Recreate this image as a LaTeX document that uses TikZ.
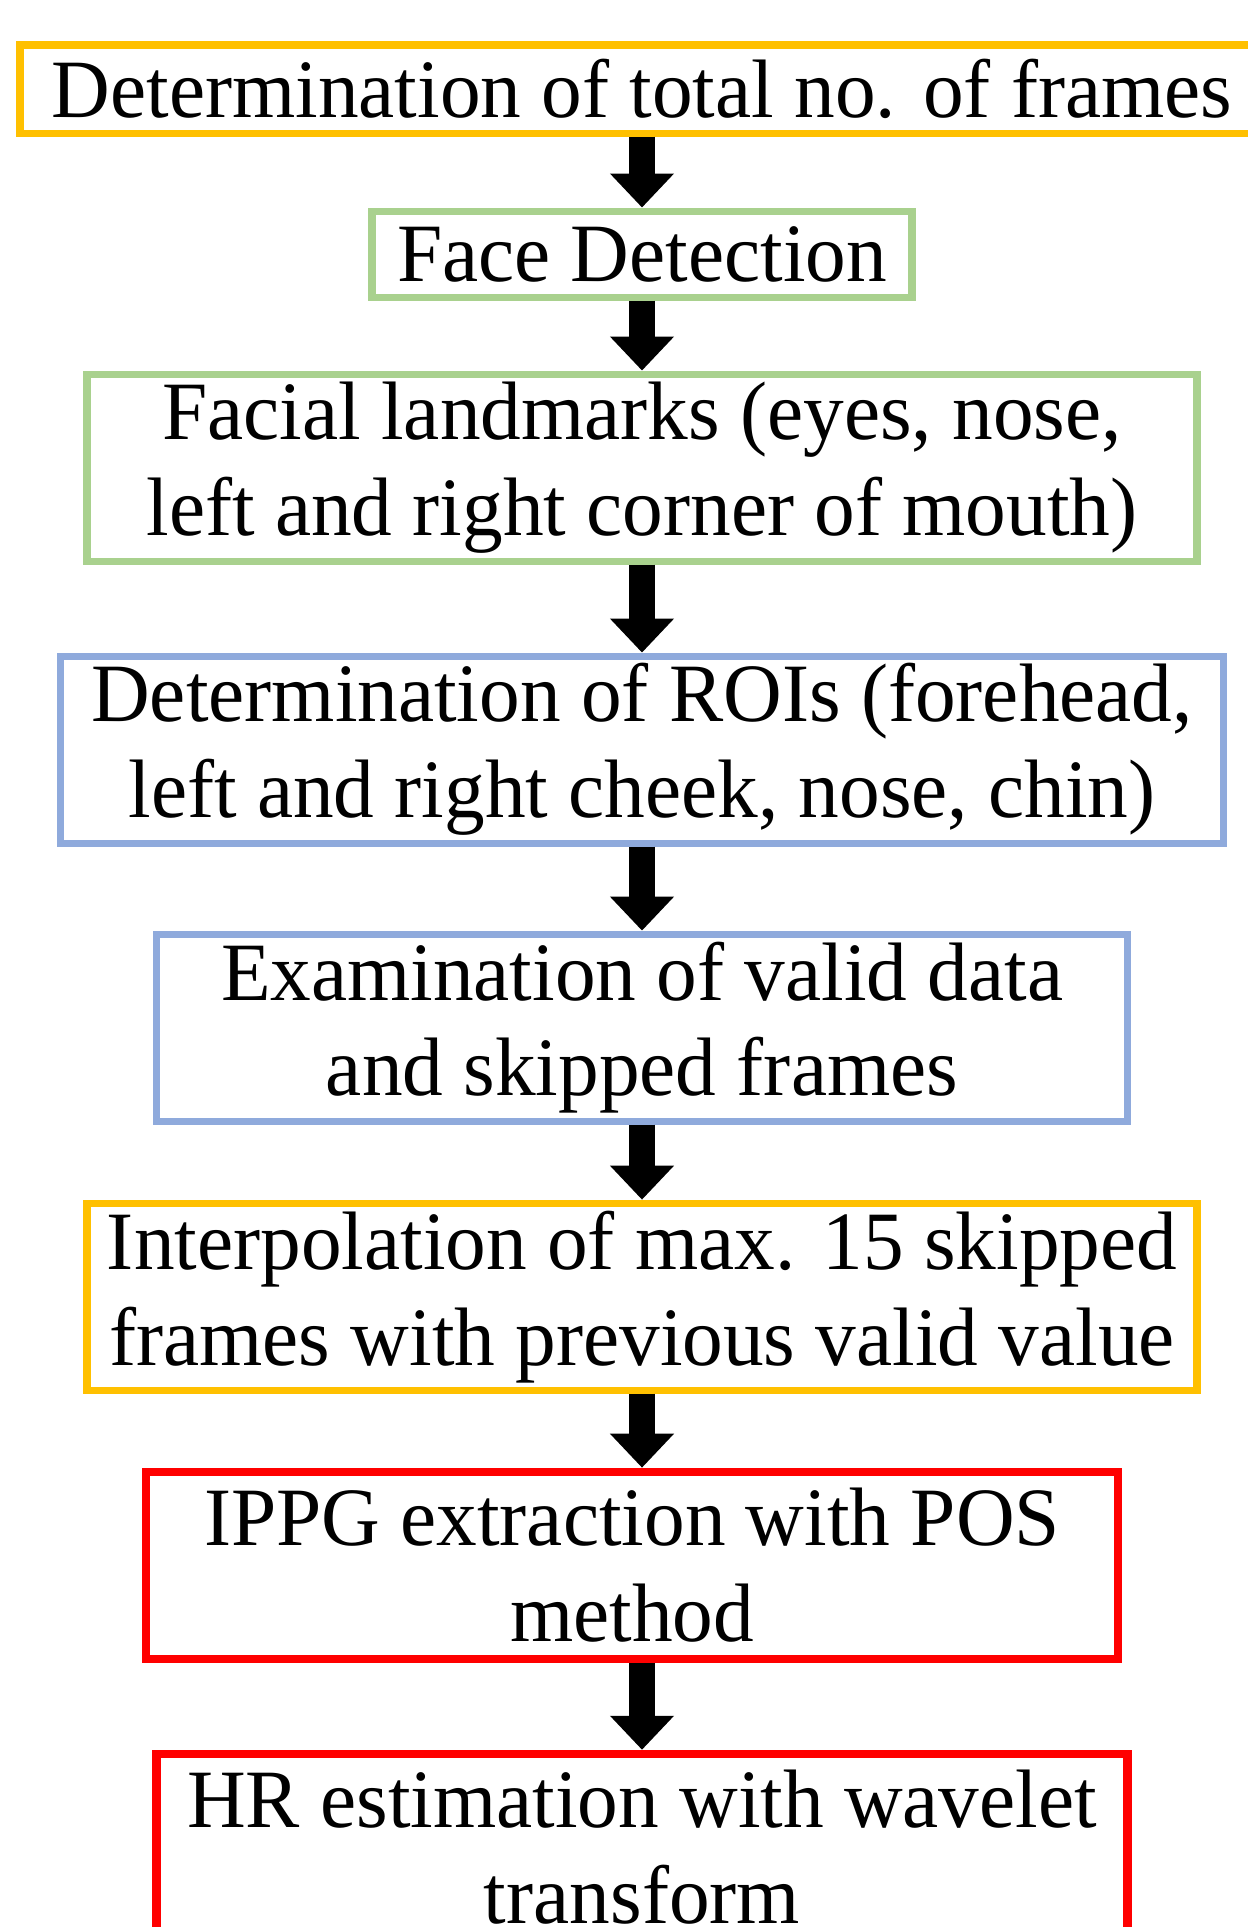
\documentclass[tikz,border=0pt]{standalone}
\usepackage{fontspec}
\setmainfont[FakeStretch=0.98]{Liberation Serif}
\usepackage{tikz}
\usetikzlibrary{arrows.meta,positioning}
\definecolor{steporange}{RGB}{255,192,0}
\definecolor{stepgreen}{RGB}{169,209,142}
\definecolor{stepblue}{RGB}{143,170,220}
\definecolor{stepred}{RGB}{255,0,0}

\begin{document}
\begin{tikzpicture}[node distance=0.8cm, every node/.style={font=\fontsize{23.6}{27.3}\selectfont}]
\useasboundingbox (0,0) rectangle (12.48,-19.27);
\tikzstyle{box}=[draw, line width=2pt, align=center, minimum width=11.1cm, minimum height=1.87cm, inner sep=0pt]
\tikzstyle{flow}=[line width=0.26cm, -{Triangle[length=0.34cm, width=0.62cm]}]
\node[box, draw=steporange, minimum width=12.44cm, minimum height=0.88cm] (frames) at (6.42,-0.89) {Determination of total no. of frames};
\node[box, draw=stepgreen, below=0.71cm of frames, minimum width=5.4cm, minimum height=0.86cm] (face) {Face Detection};
\node[box, draw=stepgreen, below=0.70cm of face] (landmarks) {Facial landmarks (eyes, nose,\\left and right corner of mouth)};
\node[box, draw=stepblue, below=0.88cm of landmarks, minimum width=11.63cm] (rois) {Determination of ROIs (forehead,\\left and right cheek, nose, chin)};
\node[box, draw=stepblue, below=0.84cm of rois, minimum width=9.71cm] (valid) {Examination of valid data\\and skipped frames};
\node[box, draw=steporange, below=0.75cm of valid] (interp) {Interpolation of max. 15 skipped\\frames with previous valid value};
\node[box, draw=stepred, below=0.74cm of interp, xshift=-0.1cm, minimum width=9.72cm, line width=2.3pt] (ippg) {IPPG extraction with POS\\method};
\node[box, draw=stepred, below=0.87cm of ippg, xshift=0.1cm, minimum width=9.71cm, line width=2.3pt] (hr) {HR estimation with wavelet\\transform};
\draw[flow] (frames) -- (face);
\draw[flow] (face) -- (landmarks);
\draw[flow] (landmarks) -- (rois);
\draw[flow] (rois) -- (valid);
\draw[flow] (valid) -- (interp);
\draw[flow] (interp.south) -- (interp.south |- ippg.north);
\draw[flow] (interp.south |- ippg.south) -- (hr.north);
\end{tikzpicture}
\end{document}
